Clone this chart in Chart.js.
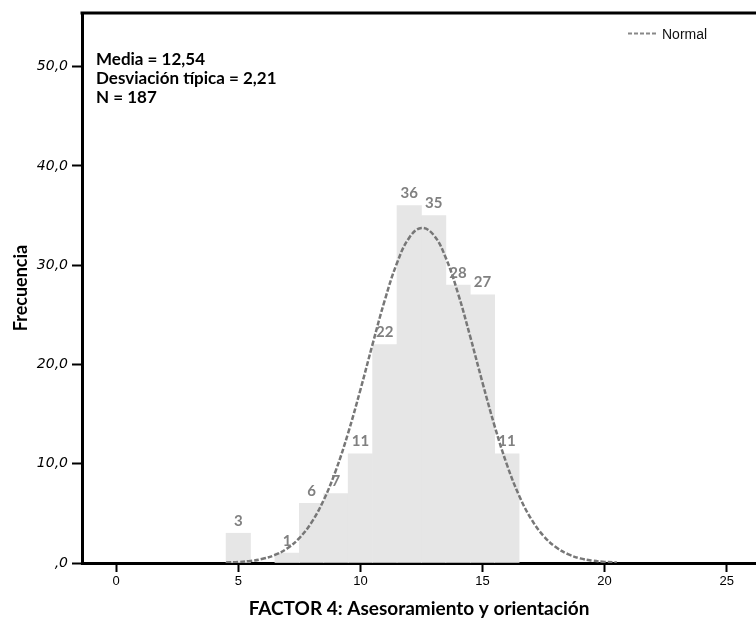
<!DOCTYPE html>
<html>
<head>
<meta charset="utf-8">
<script src="https://cdn.jsdelivr.net/npm/chart.js@4"></script>
<style>
html,body{margin:0;padding:0;background:#fff;overflow:hidden;}
#wrap{width:756px;height:620px;}
</style>
</head>
<body>
<div id="wrap"><canvas id="c" width="756" height="620"></canvas></div>
<script>
// ---- data ----
const binCenters = [5, 7, 8, 9, 10, 11, 12, 13, 14, 15, 16];
const frequencies = [3, 1, 6, 7, 11, 22, 36, 35, 28, 27, 11];
const normalX = [4.5, 5, 5.5, 6, 6.5, 7, 7.5, 8, 8.5, 9, 9.5, 10, 10.5, 11, 11.5, 12, 12.5, 13, 13.5, 14, 14.5, 15, 15.5, 16, 16.5, 17, 17.5, 18, 18.5, 19, 19.5, 20, 20.5];
const normalY = [0.05, 0.10, 0.21, 0.42, 0.81, 1.46, 2.51, 4.09, 6.35, 9.36, 13.11, 17.44, 22.05, 26.48, 30.22, 32.77, 33.75, 33.04, 30.72, 27.14, 22.78, 18.17, 13.77, 9.91, 6.78, 4.41, 2.72, 1.60, 0.89, 0.47, 0.24, 0.11, 0.05];
const statsLines = ['Media = 12,54', 'Desviación típica = 2,21', 'N = 187'];
const xTitle = 'FACTOR 4: Asesoramiento y orientación';
const yTitle = 'Frecuencia';
const legendLabel = 'Normal';

const barData = binCenters.map((x, i) => ({x: x, y: frequencies[i]}));
const lineData = normalX.map((x, i) => ({x: x, y: normalY[i]}));

const extras = {
  id: 'extras',
  afterDatasetsDraw(chart) {
    const ctx = chart.ctx;
    const a = chart.chartArea;
    const xs = chart.scales.x, ys = chart.scales.y;
    ctx.save();
    // top frame line
    ctx.strokeStyle = '#000';
    ctx.lineWidth = 3;
    ctx.beginPath();
    ctx.moveTo(a.left - 1.5, a.top);
    ctx.lineTo(a.right + 5, a.top);
    ctx.stroke();
    // bar value labels
    ctx.fillStyle = '#808080';
    ctx.font = 'bold 15px Lato';
    ctx.textAlign = 'center';
    ctx.textBaseline = 'alphabetic';
    binCenters.forEach((x, i) => {
      ctx.fillText(String(frequencies[i]), xs.getPixelForValue(x), ys.getPixelForValue(frequencies[i]) - 7.5);
    });
    // statistics text
    ctx.fillStyle = '#000';
    ctx.font = 'bold 17px Lato';
    ctx.textAlign = 'left';
    statsLines.forEach((t, i) => ctx.fillText(t, 96, 64.5 + i * 19.2));
    // legend
    ctx.strokeStyle = '#888';
    ctx.lineWidth = 2;
    ctx.setLineDash([4, 2]);
    ctx.beginPath();
    ctx.moveTo(628, 33.5);
    ctx.lineTo(657, 33.5);
    ctx.stroke();
    ctx.setLineDash([]);
    ctx.fillStyle = '#111';
    ctx.font = '14px "Liberation Sans"';
    ctx.textBaseline = 'alphabetic';
    ctx.fillText(legendLabel, 662, 38.5);
    ctx.restore();
  }
};

new Chart(document.getElementById('c'), {
  type: 'bar',
  data: {
    datasets: [
      {
        type: 'line',
        label: legendLabel,
        data: lineData,
        borderColor: '#777',
        borderWidth: 2.5,
        borderDash: [5, 2],
        pointRadius: 0,
        tension: 0.4,
        fill: false,
        order: 0
      },
      {
        type: 'bar',
        label: 'Frecuencia',
        data: barData,
        backgroundColor: '#e6e6e6',
        borderWidth: 0,
        barPercentage: 1,
        categoryPercentage: 1,
        grouped: false,
        order: 1
      }
    ]
  },
  plugins: [extras],
  options: {
    responsive: false,
    animation: false,
    events: [],
    layout: {padding: {left: 0, top: 13, right: 0, bottom: 0}},
    plugins: {legend: {display: false}, tooltip: {enabled: false}},
    scales: {
      x: {
        type: 'linear',
        min: -1.4,
        max: 26.2,
        offset: false,
        afterFit(s) { s.height = 57; },
        grid: {offset: false, drawOnChartArea: false, drawTicks: true, tickLength: 9, tickColor: '#000', tickWidth: 2},
        border: {display: true, color: '#000', width: 3},
        ticks: {
          stepSize: 5,
          includeBounds: false,
          autoSkip: false,
          maxRotation: 0,
          color: '#000',
          padding: 2,
          font: {family: '"Liberation Sans"', size: 13}
        },
        title: {
          display: true,
          text: xTitle,
          color: '#000',
          font: {family: 'Lato', weight: 'bold', size: 19},
          padding: {top: 0, bottom: 0}
        }
      },
      y: {
        min: 0,
        max: 55.4,
        afterFit(s) { s.width = 82; },
        grid: {drawOnChartArea: false, drawTicks: true, tickLength: 10, tickColor: '#000', tickWidth: 2},
        border: {display: true, color: '#000', width: 3},
        ticks: {
          stepSize: 10,
          includeBounds: false,
          color: '#000',
          padding: 4,
          font: {family: '"DejaVu Sans"', style: 'italic', size: 14},
          callback: v => (v === 0 ? ',0' : v.toFixed(1).replace('.', ','))
        },
        title: {
          display: true,
          text: yTitle,
          color: '#000',
          font: {family: 'Lato', weight: 'bold', size: 18},
          padding: {top: 10, bottom: 0}
        }
      }
    }
  }
});
</script>
</body>
</html>
